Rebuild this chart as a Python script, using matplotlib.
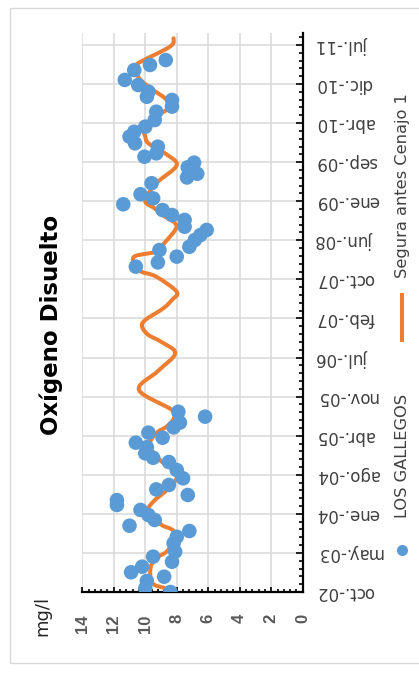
# Oxígeno Disuelto - Los Gallegos vs Segura antes Cenajo 1
# chart is drawn turned on its side (dates run up, mg/l runs right-to-left)

import numpy as np
import matplotlib.pyplot as plt
import matplotlib.ticker as ticker
from matplotlib.lines import Line2D
from matplotlib.patches import Rectangle, PathPatch
from matplotlib.path import Path

# days counted from 1-oct-2002 (first tick of the date axis)
gallegos_day = [0, 22, 65, 90, 116, 149, 178, 208, 237, 287, 325, 359, 390, 424,
                453, 483, 512, 541, 571, 604, 630, 669, 718, 765, 790, 816, 852,
                879, 908, 938, 969, 997, 1032, 1061, 1915, 1940, 1974, 2013, 2032,
                2072, 2101, 2131, 2150, 2190, 2219, 2248, 2282, 2317, 2341, 2406,
                2440, 2462, 2480, 2500, 2527, 2562, 2582, 2621, 2641, 2680, 2709,
                2739, 2778, 2827, 2857, 2896, 2915, 2945, 2984, 3014, 3072, 3102,
                3131]
gallegos_mgl = [8.4, 10.0, 9.9, 8.8, 10.9, 10.2, 8.3, 9.5, 8.1, 8.2, 8.0, 7.2, 11.0,
                9.4, 9.8, 10.3, 11.8, 11.8, 7.3, 9.3, 8.5, 7.6, 8.0, 8.5, 9.5, 10.0,
                9.9, 10.6, 8.9, 9.8, 8.2, 7.8, 6.2, 7.9, 10.6, 9.2, 8.0, 9.1, 7.2,
                6.85, 6.5, 6.1, 7.5, 7.5, 8.3, 8.9, 11.4, 9.5, 10.3, 9.6, 7.35, 6.7,
                7.0, 7.3, 6.9, 10.05, 9.3, 9.2, 10.65, 11.0, 10.7, 10.0, 9.4, 9.3,
                8.3, 8.3, 9.9, 9.8, 10.45, 11.3, 10.7, 9.7, 8.7]

segura_day = [5, 22, 41, 70, 149, 200, 237, 290, 359, 394, 450, 492, 540, 590, 640,
              700, 767, 850, 900, 943, 973, 1020, 1071, 1189, 1300, 1405, 1473,
              1513, 1561, 1601, 1670, 1720, 1767, 1856, 1885, 1915, 1974, 2003,
              2042, 2131, 2170, 2219, 2258, 2297, 2360, 2415, 2513, 2582, 2641,
              2680, 2739, 2800, 2857, 2906, 2955, 3014, 3072, 3112, 3210, 3259]
segura_mgl = [8.6, 8.75, 9.4, 9.65, 9.65, 9.3, 8.65, 8.3, 8.2, 8.95, 9.6, 9.8, 9.4,
              8.75, 8.2, 8.0, 8.95, 9.7, 9.6, 9.2, 8.65, 8.2, 8.3, 10.4, 9.2, 8.1,
              9.0, 9.8, 10.2, 10.0, 8.85, 8.3, 8.0, 9.3, 10.25, 10.6, 10.7, 9.3,
              8.9, 8.1, 8.1, 8.9, 9.4, 10.0, 9.7, 9.2, 8.0, 8.75, 9.8, 10.0, 10.1,
              9.3, 8.4, 8.75, 9.5, 10.3, 10.6, 10.45, 8.43, 8.2]

date_labels = ['oct.-02', 'may.-03', 'ene.-04', 'ago.-04', 'abr.-05', 'nov.-05',
               'jul.-06', 'feb.-07', 'oct.-07', 'jun.-08', 'ene.-09', 'sep.-09',
               'abr.-10', 'dic.-10', 'jul.-11']
value_ticks = [14, 12, 10, 8, 6, 4, 2, 0]

blue = '#5b9bd5'
orange = '#ed7d31'
W, H = 419, 675


def smooth_path(xs, ys):
    # excel-like smoothed line: bezier pieces through the given points
    pts = np.column_stack([xs, ys]).astype(float)
    n = len(pts)
    verts = [pts[0]]
    codes = [Path.MOVETO]
    for i in range(n - 1):
        p0 = pts[max(i - 1, 0)]
        p1 = pts[i]
        p2 = pts[i + 1]
        p3 = pts[min(i + 2, n - 1)]
        verts += [p1 + (p2 - p0) / 6, p2 - (p3 - p1) / 6, p2]
        codes += [Path.CURVE4] * 3
    return Path(verts, codes)


fig = plt.figure(figsize=(W / 100, H / 100), dpi=100)
ax = fig.add_axes([82.3 / W, (H - 592) / H, 220.4 / W, (592 - 32.7) / H])

ax.add_patch(PathPatch(smooth_path(segura_mgl, segura_day), fill=False, ec=orange,
                       lw=2.9, capstyle='round', joinstyle='round', zorder=3))
ax.scatter(gallegos_mgl, gallegos_day, s=110, c=blue, edgecolors='none', zorder=4)

ax.set_xlim(14, 0)
ax.set_ylim(0, 3292)

# date axis on the right side
ax.yaxis.tick_right()
ax.yaxis.set_major_locator(ticker.FixedLocator([230 * i for i in range(len(date_labels))]))
ax.yaxis.set_major_formatter(ticker.FixedFormatter(date_labels))
ax.yaxis.set_minor_locator(ticker.MultipleLocator(46))
ax.tick_params(axis='y', which='both', direction='in', right=True, left=False,
               width=1.2, pad=9.5, labelsize=12, labelcolor='#404040')
ax.tick_params(axis='y', which='major', length=5)
ax.tick_params(axis='y', which='minor', length=3)
for lab in ax.get_yticklabels():
    lab.set_rotation(180)
    lab.set_ha('left')
    lab.set_va('center')

# value axis at the bottom
ax.xaxis.set_major_locator(ticker.FixedLocator(value_ticks))
ax.xaxis.set_minor_locator(ticker.MultipleLocator(0.4))
ax.tick_params(axis='x', which='both', direction='in', width=1.2, pad=16)
ax.tick_params(axis='x', which='major', length=3.5)
ax.tick_params(axis='x', which='minor', length=2)
for lab in ax.get_xticklabels():
    lab.set_rotation(90)
    lab.set_va('top')
    lab.set_ha('center')
    lab.set_fontfamily('Liberation Sans')
    lab.set_fontweight('bold')
    lab.set_fontsize(12)
    lab.set_color('#595959')

ax.grid(True, which='major', color='#d9d9d9', lw=1.1)
ax.set_axisbelow(True)
for side in ['top', 'left']:
    ax.spines[side].set_visible(False)
for side in ['bottom', 'right']:
    ax.spines[side].set_linewidth(1.6)
    ax.spines[side].set_color('black')

# titles
fig.text(51 / W, 1 - 325 / H, 'Oxígeno Disuelto', rotation=90, ha='center',
         va='center', fontsize=16.5, fontweight='bold')
fig.text(42 / W, 1 - 616 / H, 'mg/l', rotation=90, ha='center', va='center',
         fontsize=13, color='#262626')

# legend, turned like the rest
fig.add_artist(Line2D([402 / W], [1 - 550 / H], marker='o', ms=8, color=blue,
                      mec='none', transform=fig.transFigure))
fig.text(402 / W, 1 - 518 / H, 'LOS GALLEGOS', rotation=90, ha='center',
         va='bottom', fontsize=11.7, color='#404040')
fig.add_artist(Line2D([402 / W, 402 / W], [1 - 340 / H, 1 - 295 / H], lw=2.9,
                      color=orange, transform=fig.transFigure))
fig.text(402 / W, 1 - 278 / H, 'Segura antes Cenajo 1', rotation=90, ha='center',
         va='bottom', fontsize=11.7, color='#404040')

# chart area border
fig.add_artist(Rectangle((10 / W, 1 - 663 / H), 0.99, (663 - 8) / H, fill=False,
                         edgecolor='#d9d9d9', lw=1, transform=fig.transFigure))

plt.savefig('out.png', dpi=100)
